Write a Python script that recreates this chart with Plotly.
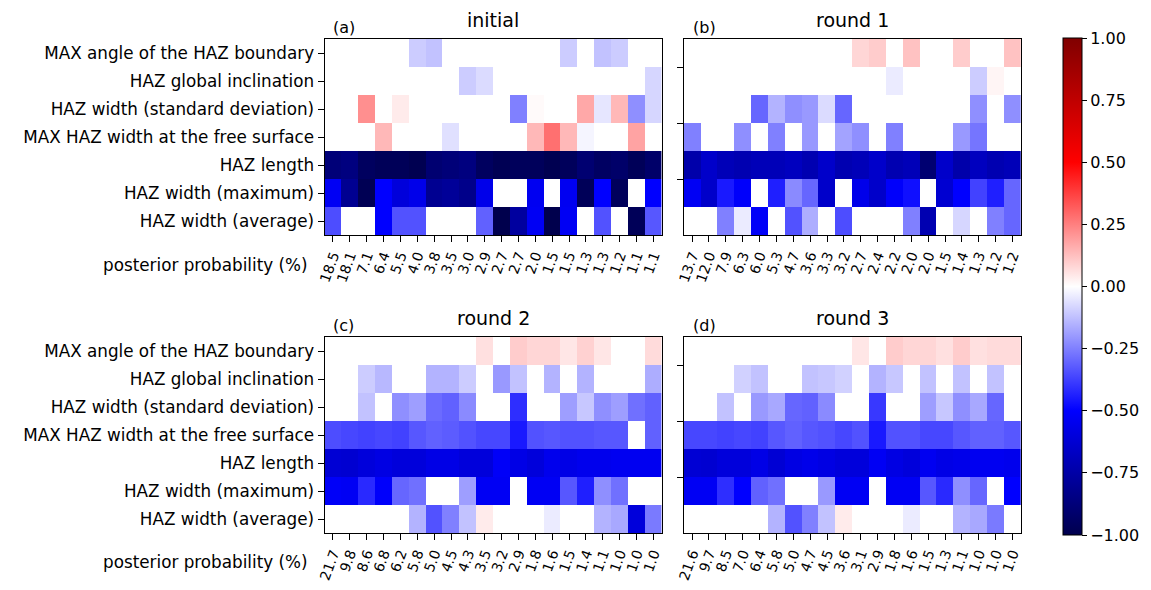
import plotly.graph_objects as go

W, H = 1151, 590

features = ["MAX angle of the HAZ boundary", "HAZ global inclination",
            "HAZ width (standard deviation)", "MAX HAZ width at the free surface",
            "HAZ length", "HAZ width (maximum)", "HAZ width (average)"]

titles = ["initial", "round 1", "round 2", "round 3"]
letters = ["(a)", "(b)", "(c)", "(d)"]

prob_initial = ["18.5", "18.1", "7.1", "6.4", "5.5", "4.0", "3.8", "3.5", "3.0", "2.9",
                "2.7", "2.7", "2.0", "1.5", "1.5", "1.3", "1.3", "1.2", "1.1", "1.1"]
prob_round1 = ["13.7", "12.0", "7.9", "6.3", "6.0", "5.3", "4.7", "3.6", "3.3", "3.2",
               "2.7", "2.4", "2.2", "2.0", "2.0", "1.5", "1.4", "1.3", "1.2", "1.2"]
prob_round2 = ["21.7", "9.8", "8.6", "6.8", "6.2", "5.8", "5.0", "4.5", "4.3", "3.5",
               "3.2", "2.9", "1.8", "1.6", "1.5", "1.4", "1.1", "1.0", "1.0", "1.0"]
prob_round3 = ["21.6", "9.7", "8.5", "7.0", "6.4", "5.8", "5.0", "4.7", "4.5", "3.6",
               "3.1", "2.9", "1.8", "1.6", "1.5", "1.3", "1.1", "1.0", "1.0", "1.0"]

corr_initial = [
    [0, 0, 0, 0, 0, -0.1, -0.12, 0, 0, 0, 0, 0, 0, 0, -0.1, 0, -0.12, -0.1, 0, 0],
    [0, 0, 0, 0, 0, 0, 0, 0, -0.1, -0.07, 0, 0, 0, 0, 0, 0, 0, 0, 0, -0.08],
    [0, 0, 0.22, 0, 0.04, 0, 0, 0, 0, 0, 0, -0.25, 0.01, 0, 0, 0.17, -0.05, 0.14, -0.22, -0.08],
    [0, 0, 0, 0.14, 0, 0, 0, -0.06, 0, 0, 0, 0, 0.14, 0.28, 0.14, -0.02, 0, 0, 0.18, 0],
    [-0.88, -0.86, -0.95, -0.97, -0.97, -0.99, -0.9, -0.88, -0.86, -0.95, -0.98, -0.96, -0.96, -0.99, -0.96, -0.9, -0.94, -0.92, -0.97, -0.92],
    [-0.53, -0.81, -0.98, -0.5, -0.6, -0.56, -0.81, -0.79, -0.83, -0.56, 0, 0, -0.54, 0, -0.54, -0.97, -0.5, -0.96, 0, -0.5],
    [-0.35, 0, 0, -0.5, -0.34, -0.34, 0, 0, 0, -0.31, -1.0, -0.77, -0.53, -1.0, -0.53, 0, -0.34, 0, -0.97, -0.33],
]
corr_round1 = [
    [0, 0, 0, 0, 0, 0, 0, 0, 0, 0, 0.08, 0.1, 0, 0.12, 0, 0, 0.1, 0, 0, 0.12],
    [0, 0, 0, 0, 0, 0, 0, 0, 0, 0, 0, 0, -0.04, 0, 0, 0, 0, -0.1, 0.02, 0],
    [0, 0, 0, 0, -0.3, -0.15, -0.22, -0.2, -0.07, -0.3, 0, 0, 0, 0, 0, 0, 0, -0.22, 0, -0.22],
    [-0.25, 0, 0, -0.22, 0, -0.25, 0, -0.2, 0, -0.18, -0.22, 0, -0.25, 0, 0, 0, -0.2, -0.27, 0, 0],
    [-0.74, -0.65, -0.7, -0.72, -0.7, -0.7, -0.68, -0.72, -0.65, -0.72, -0.7, -0.65, -0.72, -0.7, -0.9, -0.65, -0.74, -0.68, -0.72, -0.7],
    [-0.53, -0.65, -0.45, -0.51, 0, -0.44, -0.23, -0.3, -0.65, 0, -0.56, -0.65, -0.51, -0.47, 0, -0.63, -0.5, -0.37, -0.44, -0.3],
    [0, 0, -0.25, -0.04, -0.52, 0, -0.34, -0.16, 0, -0.35, 0, 0, 0, -0.25, -0.72, 0, -0.08, 0, -0.25, -0.3],
]
corr_round2 = [
    [0, 0, 0, 0, 0, 0, 0, 0, 0, 0.06, 0, 0.1, 0.08, 0.08, 0.05, 0.09, 0.05, 0, 0, 0.07],
    [0, 0, -0.1, -0.14, 0, 0, -0.15, -0.15, -0.1, 0, -0.2, -0.12, 0, -0.15, 0, -0.15, 0, 0, 0, -0.16],
    [0, 0, -0.12, 0, -0.22, -0.19, -0.29, -0.31, -0.23, 0, 0, -0.41, 0, 0, -0.19, -0.11, -0.22, -0.19, -0.28, -0.31],
    [-0.35, -0.36, -0.37, -0.36, -0.37, -0.33, -0.31, -0.32, -0.34, -0.36, -0.36, -0.45, -0.34, -0.33, -0.34, -0.34, -0.33, -0.33, 0, -0.31],
    [-0.62, -0.63, -0.6, -0.58, -0.6, -0.6, -0.57, -0.57, -0.6, -0.6, -0.52, -0.57, -0.6, -0.55, -0.57, -0.55, -0.55, -0.54, -0.54, -0.54],
    [-0.52, -0.53, -0.42, -0.51, -0.3, -0.28, 0, 0, -0.19, -0.53, -0.53, 0, -0.53, -0.53, -0.33, -0.44, -0.22, -0.28, 0, 0],
    [0, 0, 0, 0, 0, -0.15, -0.34, -0.25, -0.12, 0.04, 0, 0, 0, -0.04, 0, 0, -0.15, -0.17, -0.6, -0.26],
]
corr_round3 = [
    [0, 0, 0, 0, 0, 0, 0, 0, 0, 0, 0.05, 0, 0.1, 0.08, 0.08, 0.06, 0.1, 0.06, 0.07, 0.07],
    [0, 0, 0, -0.09, -0.12, 0, 0, -0.12, -0.11, -0.09, 0, -0.15, -0.11, 0, -0.12, 0, -0.12, 0, -0.12, 0],
    [0, 0, -0.12, 0, -0.2, -0.17, -0.3, -0.31, -0.23, 0, 0, -0.39, 0, 0, -0.19, -0.11, -0.22, -0.17, -0.3, 0],
    [-0.36, -0.36, -0.37, -0.36, -0.37, -0.33, -0.31, -0.33, -0.34, -0.36, -0.34, -0.45, -0.34, -0.34, -0.36, -0.36, -0.33, -0.31, -0.31, -0.33],
    [-0.62, -0.63, -0.6, -0.6, -0.57, -0.62, -0.58, -0.56, -0.58, -0.6, -0.6, -0.53, -0.58, -0.6, -0.54, -0.57, -0.56, -0.54, -0.54, -0.55],
    [-0.53, -0.53, -0.41, -0.5, -0.31, -0.28, 0, 0, -0.2, -0.53, -0.53, 0, -0.53, -0.53, -0.33, -0.42, -0.22, -0.3, 0, -0.5],
    [0, 0, 0, 0, 0, -0.15, -0.34, -0.25, -0.12, 0.04, 0, 0, 0, -0.04, 0, 0, -0.15, -0.17, -0.26, 0],
]

seismic = [[0.0, "rgb(0,0,77)"], [0.25, "rgb(0,0,255)"], [0.5, "rgb(255,255,255)"],
           [0.75, "rgb(255,0,0)"], [1.0, "rgb(128,0,0)"]]

data_sets = [corr_initial, corr_round1, corr_round2, corr_round3]
labels_sets = [prob_initial, prob_round1, prob_round2, prob_round3]

# panel pixel boxes (left, right, top, bottom)
boxes = [(319, 659, 39, 235), (681, 1021, 39, 235), (319, 659, 337, 533), (681, 1021, 337, 533)]

fig = go.Figure()
font_family = "DejaVu Sans"
ncol = len(prob_initial)
nrow = len(features)

for i in range(4):
    sfx = "" if i == 0 else str(i + 1)
    fig.add_trace(go.Heatmap(
        z=data_sets[i], x=list(range(ncol)), y=list(range(nrow)),
        coloraxis="coloraxis", xaxis="x" + sfx, yaxis="y" + sfx,
        xgap=0, ygap=0, hoverinfo="skip"))
    l, r, t, b = boxes[i]
    xa = dict(domain=[l / W, r / W], range=[-0.5, ncol - 0.5],
              tickmode="array", tickvals=list(range(ncol)), ticktext=labels_sets[i],
              tickangle=-70, ticks="outside", ticklen=6, tickcolor="black",
              showline=True, mirror=True, linecolor="black", linewidth=1,
              showgrid=False, zeroline=False, anchor="y" + sfx,
              tickfont=dict(size=14, family=font_family, color="black"))
    if i in (0, 2):
        ya = dict(tickmode="array", tickvals=list(range(nrow)), ticktext=features,
                  tickfont=dict(size=16.8, family=font_family, color="black"))
    else:
        ya = dict(tickmode="array", tickvals=[0.5, 2.5, 4.5], ticktext=["", "", ""])
    ya.update(domain=[1 - b / H, 1 - t / H], range=[nrow - 0.5, -0.5],
              ticks="outside", ticklen=6, tickcolor="black",
              showline=True, mirror=True, linecolor="black", linewidth=1,
              showgrid=False, zeroline=False, anchor="x" + sfx)
    fig.update_layout(**{"xaxis" + sfx: xa, "yaxis" + sfx: ya})
    fig.add_annotation(text=titles[i], xref="paper", yref="paper",
                       x=(l + r) / 2 / W, y=1 - t / H, yshift=6,
                       xanchor="center", yanchor="bottom", showarrow=False,
                       font=dict(size=19, family=font_family, color="black"))
    fig.add_annotation(text=letters[i], xref="paper", yref="paper",
                       x=(l + 7) / W, y=1 - t / H, yshift=0,
                       xanchor="left", yanchor="bottom", showarrow=False,
                       font=dict(size=16, family=font_family, color="black"))

for yp in (265, 562):
    fig.add_annotation(text="posterior probability (%)", xref="paper", yref="paper",
                       x=304 / W, y=1 - yp / H, xanchor="right", yanchor="middle",
                       showarrow=False,
                       font=dict(size=16.8, family=font_family, color="black"))

fig.update_layout(
    width=W, height=H, margin=dict(l=0, r=0, t=0, b=0),
    paper_bgcolor="white", plot_bgcolor="white",
    font=dict(family=font_family, color="black"),
    coloraxis=dict(
        colorscale=seismic, cmin=-1, cmax=1,
        colorbar=dict(x=1063 / W, xanchor="left", xref="paper", xpad=0, ypad=0,
                      y=1 - (38 + 535) / 2 / H, yanchor="middle", len=(535 - 38) / H,
                      lenmode="fraction", thickness=19, thicknessmode="pixels",
                      outlinewidth=1, outlinecolor="black",
                      tickmode="array", tickvals=[-1, -0.75, -0.5, -0.25, 0, 0.25, 0.5, 0.75, 1],
                      ticktext=["\u22121.00", "\u22120.75", "\u22120.50", "\u22120.25", "0.00",
                                "0.25", "0.50", "0.75", "1.00"],
                      ticks="outside", ticklen=5, tickcolor="black",
                      tickfont=dict(size=16, family=font_family, color="black"))),
)

fig.write_html("out.html")
